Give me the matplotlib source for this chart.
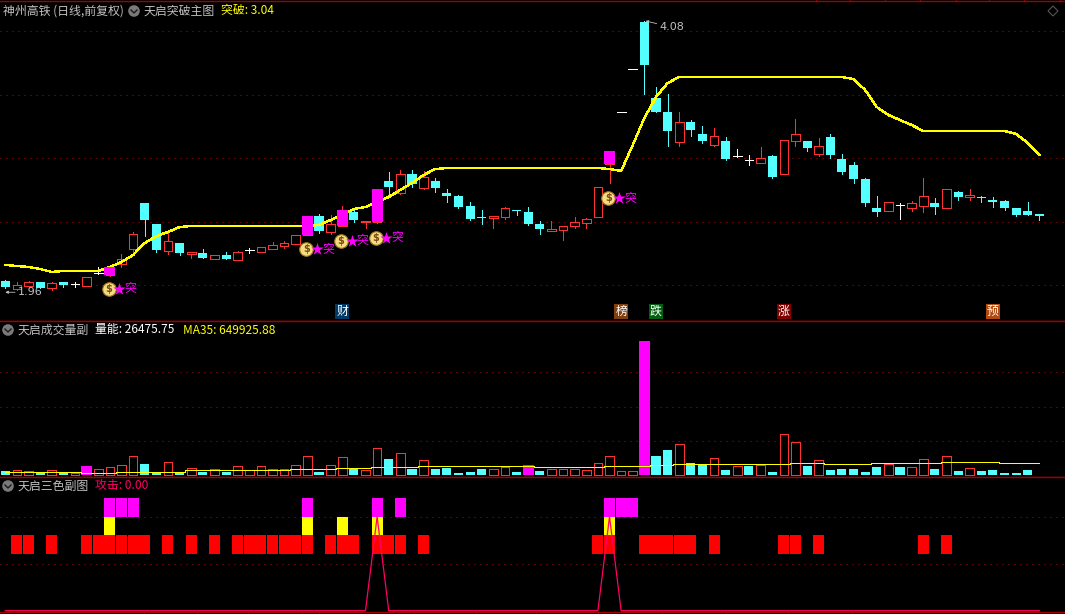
import numpy as np
import matplotlib
matplotlib.use("Agg")
import matplotlib.pyplot as plt
from matplotlib.patches import Circle, Polygon
from matplotlib.lines import Line2D
from matplotlib.transforms import IdentityTransform

plt.rcParams['font.family'] = ['Noto Sans CJK SC', 'DejaVu Sans']

# daily candles, price in yuan
opens = [2.033,1.970,1.993,2.025,1.978,2.025,2.009,1.993,2.096,2.080,
         2.167,2.285,2.647,2.482,2.269,2.332,2.245,2.253,2.206,2.238,
         2.198,2.277,2.261,2.285,2.309,2.324,2.395,2.545,2.419,2.466,
         2.576,2.498,2.498,2.821,2.726,2.876,2.766,2.821,2.726,2.703,
         2.624,2.537,2.529,2.537,2.592,2.576,2.482,2.427,2.435,2.466,
         2.490,2.537,2.955,3.364,3.703,4.074,3.475,3.364,3.128,3.286,
         3.191,3.104,3.136,3.018,2.986,2.963,3.018,2.876,3.136,3.136,
         3.033,3.167,2.994,2.947,2.836,2.608,2.584,2.632,2.608,2.624,
         2.647,2.608,2.734,2.695,2.695,2.671,2.663,2.608,2.584,2.561]
highs = [2.041,2.025,2.033,2.025,2.025,2.025,2.025,2.064,2.143,2.159,
         2.245,2.419,2.647,2.482,2.419,2.332,2.261,2.285,2.238,2.261,
         2.269,2.293,2.301,2.340,2.348,2.395,2.545,2.561,2.553,2.624,
         2.592,2.506,2.758,2.892,2.907,2.907,2.900,2.844,2.758,2.710,
         2.655,2.592,2.545,2.616,2.592,2.616,2.506,2.506,2.466,2.537,
         2.529,2.773,3.057,3.364,3.703,4.082,3.561,3.506,3.364,3.301,
         3.254,3.238,3.167,3.073,3.026,3.089,3.026,3.144,3.309,3.136,
         3.160,3.191,3.033,2.970,2.844,2.703,2.655,2.647,2.663,2.844,
         2.687,2.758,2.742,2.758,2.703,2.695,2.671,2.608,2.655,2.561]
lows = [1.978,1.962,1.985,1.978,1.962,1.985,1.985,1.993,2.088,2.072,
        2.143,2.253,2.387,2.261,2.245,2.238,2.214,2.214,2.206,2.206,
        2.198,2.253,2.261,2.285,2.293,2.324,2.395,2.411,2.403,2.466,
        2.498,2.450,2.490,2.695,2.718,2.773,2.758,2.734,2.655,2.608,
        2.513,2.482,2.450,2.521,2.553,2.474,2.403,2.427,2.356,2.450,
        2.450,2.537,2.805,3.364,3.703,3.506,3.364,3.097,3.097,3.175,
        3.120,3.097,2.986,3.010,2.947,2.963,2.844,2.876,3.097,3.057,
        3.018,3.002,2.876,2.805,2.624,2.545,2.584,2.521,2.584,2.576,
        2.561,2.608,2.671,2.671,2.655,2.616,2.592,2.545,2.553,2.513]
closes = [1.985,2.001,2.025,1.978,2.017,2.001,2.009,2.064,2.096,2.143,
          2.206,2.403,2.513,2.277,2.348,2.253,2.261,2.214,2.238,2.206,
          2.261,2.277,2.301,2.316,2.332,2.395,2.545,2.427,2.482,2.592,
          2.513,2.506,2.758,2.773,2.876,2.797,2.852,2.766,2.703,2.616,
          2.521,2.529,2.545,2.608,2.584,2.482,2.442,2.442,2.466,2.498,
          2.521,2.773,3.057,3.364,3.703,3.735,3.364,3.215,3.286,3.223,
          3.136,3.175,2.994,3.018,2.986,3.002,2.852,3.144,3.191,3.081,
          3.097,3.026,2.892,2.836,2.647,2.576,2.655,2.632,2.647,2.703,
          2.616,2.758,2.695,2.710,2.687,2.655,2.608,2.553,2.553,2.545]
# yellow breakout line
breakout = [2.159,2.151,2.143,2.127,2.104,2.112,2.112,2.112,2.112,2.143,
            2.182,2.238,2.332,2.387,2.419,2.458,2.466,2.466,2.466,2.466,
            2.466,2.466,2.466,2.466,2.466,2.466,2.466,2.474,2.513,2.553,
            2.600,2.616,2.655,2.695,2.750,2.805,2.868,2.915,2.923,2.923,
            2.923,2.923,2.923,2.923,2.923,2.923,2.923,2.923,2.923,2.923,
            2.923,2.923,2.915,2.900,3.104,3.317,3.483,3.593,3.640,3.640,
            3.640,3.640,3.640,3.640,3.640,3.640,3.640,3.640,3.640,3.640,
            3.640,3.640,3.640,3.624,3.538,3.404,3.341,3.301,3.262,3.215,
            3.215,3.215,3.215,3.215,3.215,3.215,3.215,3.191,3.120,3.026]
price_signal = [9, 26, 29, 32, 52]
bag_price = [1.972, 2.282, 2.350, 2.371, 2.684]
news_idx = [29, 53, 56, 67, 85]
news_text = ['财', '榜', '跌', '涨', '预']
news_bg = ['#003a66', '#7f4010', '#006010', '#800000', '#b04a10']
price_ticks = [2.0, 2.5, 3.0, 3.5, 4.0]
top_marks = [69.8, 72.7, 75.7, 78.7, 81.8, 84.7, 87.7, 90.8]
bottom_marks = [11.9, 16.5, 20.9, 25.5, 27, 33.8, 35.2, 40.5, 45.7, 51, 56.5, 62, 67.4, 72.9]

# volume, in units of 10000
volume = [22.2,25.9,22.2,11.1,25.9,11.1,11.1,50.0,31.5,44.4,
          55.5,105.5,61.1,11.1,70.3,11.1,38.9,16.7,33.3,16.7,
          50.0,27.8,50.0,33.3,33.3,55.5,105.5,16.7,55.5,99.9,
          33.3,27.8,148.0,88.8,122.1,33.3,81.4,33.3,38.9,11.1,
          16.7,33.3,33.3,44.4,16.7,55.5,22.2,33.3,33.3,33.3,
          27.8,64.8,105.5,20.4,20.4,743.7,105.5,138.8,170.2,66.6,
          61.1,92.5,27.8,50.0,50.0,55.5,16.7,225.7,181.3,50.0,
          81.4,27.8,33.3,33.3,16.7,44.4,61.1,44.4,44.4,87.0,
          33.3,103.6,22.2,37.0,22.2,27.8,11.1,11.1,27.8,2.65]
vol_ma = [18.5,18.5,18.5,18.5,18.5,18.5,18.5,13.0,13.0,13.0,
          18.5,18.5,18.5,18.5,18.5,18.5,25.9,25.9,25.9,25.9,
          25.9,25.9,25.9,25.9,25.9,31.5,31.5,31.5,31.5,37.0,
          37.0,37.0,42.6,42.6,42.6,42.6,48.1,48.1,48.1,48.1,
          48.1,48.1,48.1,48.1,48.1,48.1,42.6,42.6,42.6,42.6,
          42.6,42.6,48.1,48.1,48.1,48.1,53.7,53.7,59.2,59.2,
          59.2,59.2,59.2,59.2,59.2,59.2,59.2,59.2,64.8,64.8,
          64.8,59.2,59.2,59.2,59.2,64.8,64.8,64.8,64.8,64.8,
          64.8,70.3,70.3,70.3,70.3,70.3,64.8,64.8,64.8,64.99]
vol_signal = [7, 45, 55]
vol_ticks = [190, 380, 570]

# three colour panel
red_days = [1,2,4,7,8,9,10,11,12,14,16,18,20,21,22,23,24,25,26,28,29,30,
            32,33,34,36,51,52,55,56,57,58,59,61,67,68,70,79,81]
yellow_days = [9, 26, 29, 32, 52]
magenta_days = [9, 10, 11, 26, 32, 34, 52, 53, 54]
attack_days = [31, 32, 33, 51, 52, 53]
attack_vals = [0, 100, 0, 0, 100, 0]
attack_ticks = [50, 100]

w = 1065
h = 614
dark_red = '#a00000'
red = '#ff3232'
cyan = '#54ffff'
magenta = '#ff00ff'
yellow = '#ffff00'
pink = '#ff0066'
gray = '#c0c0c0'
one_px = 0.6

opens = np.array(opens)
closes = np.array(closes)
highs = np.array(highs)
lows = np.array(lows)
volume = np.array(volume)
days = np.arange(len(opens))

fig = plt.figure(figsize=(w/100, h/100), dpi=100, facecolor='black')

def make_axes(top, bottom):
    ax = fig.add_axes([0, 1-bottom/h, 1, (bottom-top)/h], facecolor='black')
    ax.set_xlim(-0.456, 91.2)
    for s in ['left', 'right']:
        ax.spines[s].set_visible(False)
    for s in ['top', 'bottom']:
        ax.spines[s].set_color(dark_red)
        ax.spines[s].set_linewidth(1.0)
    ax.tick_params(left=False, labelleft=False, bottom=False, labelbottom=False)
    return ax

ax1 = make_axes(1.3, 321.3)
ax2 = make_axes(321.3, 477.3)
ax3 = make_axes(477.3, 612.3)
ax1.set_ylim(1.715, 4.237)
ax2.set_ylim(-12.8, 853)
ax3.set_ylim(-1.7, 141.9)

ax1.xaxis.set_ticks_position('top')
ax1.set_xticks(top_marks)
ax1.tick_params(top=True, labeltop=False, length=1.2, width=0.7, color=dark_red, direction='out')
ax3.set_xticks(bottom_marks)
ax3.tick_params(bottom=True, labelbottom=False, length=1.2, width=0.7, color=dark_red, direction='out')

for ax, ticks in [(ax1, price_ticks), (ax2, vol_ticks), (ax3, attack_ticks)]:
    ax.hlines(ticks, -0.456, 91.2, colors='#b00000', linewidth=0.8,
              linestyles=(0, (1, 4.4)), zorder=1)

# price panel
up = closes > opens
down = closes < opens
flat = closes == opens
ax1.vlines(days[up], lows[up], highs[up], colors=red, linewidth=one_px, antialiased=False, zorder=2)
ax1.vlines(days[down], lows[down], highs[down], colors=cyan, linewidth=one_px, antialiased=False, zorder=2)
ax1.vlines(days[flat], lows[flat], highs[flat], colors='white', linewidth=one_px, antialiased=False, zorder=2)
ax1.bar(days[up], (closes-opens)[up], bottom=opens[up], width=0.74, facecolor='black',
        edgecolor=red, linewidth=one_px, antialiased=False, zorder=3)
ax1.bar(days[down], (opens-closes)[down], bottom=closes[down], width=0.78, color=cyan,
        linewidth=0, antialiased=False, zorder=3)
ax1.hlines(closes[flat], days[flat]-0.38, days[flat]+0.38, colors='white', linewidth=one_px,
           antialiased=False, zorder=3)
ax1.plot(days, breakout, color=yellow, linewidth=1.0, antialiased=False, zorder=4)
ax1.bar(price_signal, closes[price_signal]-opens[price_signal], bottom=opens[price_signal],
        width=0.95, color=magenta, linewidth=0, antialiased=False, zorder=5)

# money bag, star and breakout word under each signal
for d, p in zip(price_signal, bag_price):
    ax1.scatter([d-0.1], [p], s=95, facecolor='#f5dc80', edgecolor='#a07820', linewidth=0.8, zorder=6)
    ax1.text(d-0.1, p, '$', color='#7a4a10', fontsize=7, fontweight='bold', ha='center',
             va='center', family='DejaVu Sans', zorder=7)
    ax1.scatter([d+0.8], [p], s=90, marker='*', color=magenta, linewidth=0, zorder=6)
    ax1.text(d+1.25, p, '突', color=magenta, fontsize=8.6, ha='left', va='center', zorder=7)

for d, s, bg in zip(news_idx, news_text, news_bg):
    ax1.text(d, 1.79, s, color='white', fontsize=8.6, ha='center', va='center', zorder=7,
             bbox=dict(facecolor=bg, edgecolor='none', pad=0.8))

hi = int(np.argmax(highs))
lo = int(np.argmin(lows))
ax1.annotate('%.2f' % highs[hi], xy=(hi+0.1, highs[hi]), xytext=(10, -4.5), textcoords='offset points',
             color=gray, fontsize=8, va='center', family='DejaVu Sans', zorder=7,
             arrowprops=dict(arrowstyle='-|>', color=gray, linewidth=0.6, mutation_scale=4,
                             shrinkA=0, shrinkB=0))
ax1.annotate('%.2f' % lows[lo], xy=(0, lows[lo]-0.018), xytext=(9, 0), textcoords='offset points',
             color=gray, fontsize=8, va='center', family='DejaVu Sans', zorder=7,
             arrowprops=dict(arrowstyle='-|>', color=gray, linewidth=0.6, mutation_scale=4,
                             shrinkA=0, shrinkB=0))

# volume panel
prev_close = np.concatenate(([closes[0]], closes[:-1]))
vol_up = up | (flat & (closes >= prev_close))
vol_hollow = vol_up.copy()
vol_solid = ~vol_up
vol_hollow[vol_signal] = False
vol_solid[vol_signal] = False
ax2.bar(days[vol_hollow], volume[vol_hollow], width=0.74, facecolor='black', edgecolor=red,
        linewidth=one_px, antialiased=False, zorder=3)
ax2.bar(days[vol_solid], volume[vol_solid], width=0.78, color=cyan, linewidth=0, antialiased=False, zorder=3)
ax2.bar(vol_signal, volume[vol_signal], width=0.95, color=magenta, linewidth=0, antialiased=False, zorder=3)
ax2.plot(days, vol_ma, color=yellow, linewidth=one_px, drawstyle='steps-mid', antialiased=False, zorder=4)

# three colour panel
ax3.bar(red_days, 20, bottom=60, width=0.95, color='#ff0000', linewidth=0, antialiased=False, zorder=3)
ax3.bar(yellow_days, 20, bottom=80, width=0.95, color=yellow, linewidth=0, antialiased=False, zorder=3)
ax3.bar(magenta_days, 20, bottom=100, width=0.95, color=magenta, linewidth=0, antialiased=False, zorder=3)
attack = np.zeros(len(days))
attack[attack_days] = attack_vals
ax3.plot(days, attack, color=pink, linewidth=0.9, zorder=4)

# headers
def head(x, y, s, color, size=8.6):
    fig.text(x/w, 1-y/h, s, color=color, fontsize=size, va='center', ha='left')

def icon(x, y):
    fig.add_artist(Circle((x, h-y), 5.8, facecolor='#7a7a7a', edgecolor='none', transform=IdentityTransform()))
    fig.add_artist(Line2D([x-3, x, x+3], [h-y+1, h-y-2, h-y+1], color='#1a1a1a', linewidth=1.0,
                          transform=IdentityTransform()))

head(3, 11, '神州高铁 (日线,前复权)', gray)
icon(134, 11)
head(144, 11, '天启突破主图', gray)
head(221, 11, '突破: 3.04', yellow)
icon(8, 330)
head(18, 330, '天启成交量副', gray)
head(95, 330, '量能: 26475.75', 'white')
head(183, 330, 'MA35: 649925.88', yellow)
icon(8, 486)
head(18, 486, '天启三色副图', gray)
head(95, 486, '攻击: 0.00', pink)
fig.add_artist(Polygon([(1053, h-6), (1058, h-11), (1053, h-16), (1048, h-11)], closed=True, fill=False,
                       edgecolor='#555555', linewidth=0.8, transform=IdentityTransform()))

fig.savefig('out.png', dpi=100, facecolor='black')
